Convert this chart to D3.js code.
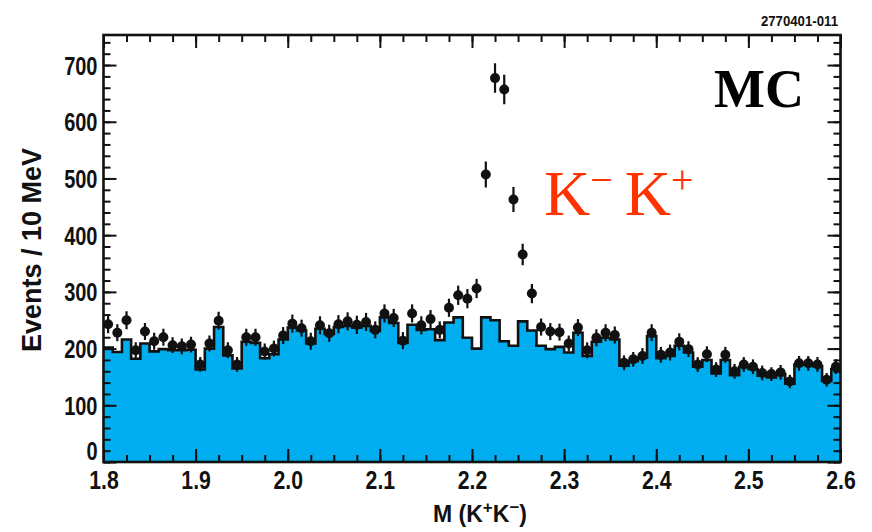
<!DOCTYPE html>
<html><head><meta charset="utf-8">
<script src="https://cdn.jsdelivr.net/npm/d3@7"></script>
<style>
html,body{margin:0;padding:0;background:#fff;}
svg{display:block;}
</style></head>
<body>
<svg id="chart" width="872" height="532"></svg>
<script>
// ---- data ----
const binLow = 1.80;          // GeV, first bin lower edge
const binWidth = 0.01;        // 10 MeV bins
const mcCounts = [202,194,216,182,209,195,199,197,197,198,163,200,238,188,165,212,210,183,190,216,
  237,232,209,235,226,238,240,237,240,231,255,245,210,242,233,234,215,246,255,219,
  200,255,250,213,205,248,232,205,199,203,193,228,187,212,219,216,170,178,184,222,
  183,187,205,193,168,180,156,180,153,168,164,152,149,155,138,172,172,169,143,164];
const dataCounts = [243,228,250,197,230,213,220,206,204,207,172,209,249,197,172,220,220,195,200,223,
  244,236,213,241,227,243,248,242,247,233,262,254,214,262,241,252,233,272,294,288,
  306,507,677,657,463,366,297,238,230,229,209,237,197,219,228,224,175,181,187,228,
  189,193,212,199,172,190,163,189,160,172,168,157,155,158,142,174,174,172,145,168];
const dataErrors = [16,15,16,14,15,15,15,14,14,14,13,14,16,14,13,15,15,14,14,15,
  16,15,15,16,15,16,16,16,16,15,16,16,15,16,16,16,15,16,17,17,
  17,23,26,26,22,19,17,15,15,15,14,15,14,15,15,15,13,13,14,15,
  14,14,15,14,13,14,13,14,13,13,13,13,12,13,12,13,13,13,12,13];
const xTicks = [1.8,1.9,2.0,2.1,2.2,2.3,2.4,2.5,2.6];
const yTicks = [0,100,200,300,400,500,600,700];

// ---- layout ----
const L=103.5, R=840.5, T=35, B=462;
const svg = d3.select("#chart");
const x = d3.scaleLinear().domain([1.8,2.6]).range([L,R]);
const y = d3.scaleLinear().domain([0,753]).range([B,T]);

const SANS = "'Liberation Sans', Arial, Helvetica, sans-serif";
const SERIF = "'Liberation Serif', 'Times New Roman', serif";

function squeeze(sel, f){
  sel.each(function(){
    const w = this.getComputedTextLength();
    d3.select(this).attr("textLength", w*f).attr("lengthAdjust","spacingAndGlyphs");
  });
}

// histogram (MC)
const histPts = mcCounts.map((v,i)=>({x:binLow+i*binWidth, v}));
histPts.push({x:binLow+mcCounts.length*binWidth, v:mcCounts[mcCounts.length-1]});
svg.append("clipPath").attr("id","pc").append("rect")
  .attr("x",L).attr("y",T).attr("width",R-L).attr("height",B-T);
const plot = svg.append("g").attr("clip-path","url(#pc)");
plot.append("path").datum(histPts)
  .attr("d", d3.area().x(d=>x(d.x)).y0(y(0)).y1(d=>y(d.v)).curve(d3.curveStepAfter))
  .attr("fill","#00aeef");
plot.append("path").datum(histPts)
  .attr("d", d3.line().x(d=>x(d.x)).y(d=>y(d.v)).curve(d3.curveStepAfter))
  .attr("fill","none").attr("stroke","#111").attr("stroke-width",2.6);

// data points
const pts = dataCounts.map((v,i)=>({c:binLow+(i+0.5)*binWidth, v, e:dataErrors[i]}));
const pg = plot.append("g");
pg.selectAll("line").data(pts).join("line")
  .attr("x1",d=>x(d.c)).attr("x2",d=>x(d.c))
  .attr("y1",d=>y(d.v-d.e)).attr("y2",d=>y(d.v+d.e))
  .attr("stroke","#111").attr("stroke-width",2.2);
pg.selectAll("circle").data(pts).join("circle")
  .attr("cx",d=>x(d.c)).attr("cy",d=>y(d.v)).attr("r",5)
  .attr("fill","#111");

// axes ticks (inward)
const yMinor = d3.range(0,753,20);
const xMinor = d3.range(0,33).map(i=>1.8+i*0.025);
function tickStyle(g){ g.select(".domain").remove(); g.selectAll("line").attr("stroke","#111").attr("stroke-width",2); }

svg.append("g").attr("transform",`translate(${L},0)`)
  .call(d3.axisLeft(y).tickValues(yMinor).tickSize(-7).tickFormat(""))
  .call(tickStyle);
svg.append("g").attr("transform",`translate(${R},0)`)
  .call(d3.axisRight(y).tickValues(yMinor).tickSize(-7).tickFormat(""))
  .call(tickStyle);
svg.append("g").attr("transform",`translate(${R},0)`)
  .call(d3.axisRight(y).tickValues(yTicks).tickSize(-13).tickFormat(""))
  .call(tickStyle);
svg.append("g").attr("transform",`translate(0,${B})`)
  .call(d3.axisBottom(x).tickValues(xMinor).tickSize(-7).tickFormat(""))
  .call(tickStyle);
svg.append("g").attr("transform",`translate(0,${T})`)
  .call(d3.axisTop(x).tickValues(xMinor).tickSize(-7).tickFormat(""))
  .call(tickStyle);
svg.append("g").attr("transform",`translate(0,${T})`)
  .call(d3.axisTop(x).tickValues(xTicks).tickSize(-13).tickFormat(""))
  .call(tickStyle);

const yAx = svg.append("g").attr("transform",`translate(${L},0)`)
  .call(d3.axisLeft(y).tickValues(yTicks).tickSize(-13).tickFormat(d3.format("d")))
  .call(tickStyle);
yAx.selectAll("text").attr("font-family",SANS).attr("font-weight","bold").attr("font-size",25)
  .attr("fill","#111").attr("dy","0.36em").attr("x",-6);
yAx.selectAll(".tick").filter(d=>d===0).select("text").attr("dy","-0.1em");
squeeze(yAx.selectAll("text"),0.8);

const xAx = svg.append("g").attr("transform",`translate(0,${B})`)
  .call(d3.axisBottom(x).tickValues(xTicks).tickSize(-13).tickFormat(d3.format(".1f")))
  .call(tickStyle);
xAx.selectAll("text").attr("font-family",SANS).attr("font-weight","bold").attr("font-size",25)
  .attr("fill","#111").attr("y",9).attr("dy","0.71em");
squeeze(xAx.selectAll("text"),0.85);

// frame
svg.append("rect").attr("x",L).attr("y",T).attr("width",R-L).attr("height",B-T)
  .attr("fill","none").attr("stroke","#111").attr("stroke-width",2.6);

// axis titles
svg.append("text").attr("transform","translate(41,250) rotate(-90)")
  .attr("text-anchor","middle").attr("font-family",SANS).attr("font-weight","bold")
  .attr("font-size",27).attr("fill","#111").text("Events / 10 MeV");
const xt = svg.append("text").attr("x",480).attr("y",522).attr("text-anchor","middle")
  .attr("font-family",SANS).attr("font-weight","bold").attr("font-size",23).attr("fill","#111");
xt.append("tspan").text("M (K");
xt.append("tspan").attr("dy",-9).attr("font-size",17).text("+");
xt.append("tspan").attr("dy",9).text("K");
xt.append("tspan").attr("dy",-9).attr("font-size",17).text("\u2212");
xt.append("tspan").attr("dy",9).text(")");

// annotations
const id = svg.append("text").attr("x",838).attr("y",26).attr("text-anchor","end")
  .attr("font-family",SANS).attr("font-weight","bold").attr("font-size",15).attr("fill","#111")
  .text("2770401-011");
squeeze(id,0.88);
svg.append("text").attr("x",714).attr("y",107)
  .attr("font-family",SERIF).attr("font-weight","bold").attr("font-size",54).attr("fill","#000")
  .text("MC");
const kk = svg.append("text").attr("x",544).attr("y",215)
  .attr("font-family",SERIF).attr("font-size",64).attr("fill","#ff3300");
kk.append("tspan").text("K");
kk.append("tspan").attr("dy",-22).attr("font-size",40).text("\u2212");
kk.append("tspan").attr("dy",22).attr("dx",12).text("K");
kk.append("tspan").attr("dy",-22).attr("font-size",40).text("+");
</script>
</body></html>
